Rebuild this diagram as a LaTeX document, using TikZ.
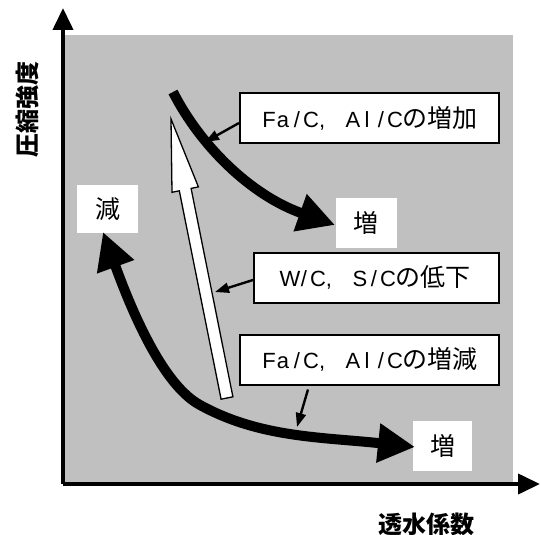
\documentclass[tikz,border=0pt]{standalone}
\usepackage{fontspec}
\newfontfamily\cjk{Noto Sans CJK JP}
\newfontfamily\lat{Liberation Sans}
\usetikzlibrary{arrows.meta,calc}
\definecolor{bg}{HTML}{C0C0C0}
\newcommand\hc[1]{\makebox[14pt][c]{\lat\fontsize{22}{22}\selectfont #1}}
\newcommand\hcomma{\makebox[14pt][l]{\lat\fontsize{22}{22}\selectfont\hspace{1pt},}}
\tikzset{bigtip/.tip={Triangle[length=37pt,width=37pt]}}
\begin{document}
\begin{tikzpicture}[x=1pt,y=-1pt,
  lbl/.style={draw=black,line width=2pt,fill=white,inner sep=0pt,minimum height=50pt,
    font=\cjk\fontsize{25}{25}\selectfont},
  dirbox/.style={fill=white,inner sep=0pt,minimum width=61pt,minimum height=50pt,
    font=\cjk\fontsize{25}{25}\selectfont},
  axislbl/.style={inner sep=0pt,font=\cjk\bfseries\fontsize{24}{24}\selectfont},
  axis/.style={line width=4pt,-{Triangle[length=22pt,width=20pt]}},
  curve/.style={line width=10pt},
  ptr/.style={line width=2.4pt,-{Triangle[length=14pt,width=10pt]}},
  hollow/.style={draw=black,line width=1.3pt,fill=white,line join=miter}]
\useasboundingbox (0,0) rectangle (541,535);
% background
\fill[bg] (63,35) rectangle (513,484);
% axes
\coordinate (o) at (63,484);
\coordinate (ytip) at (63,8);
\coordinate (xtip) at (540,484);
\draw[axis] (o) -- (ytip);
\draw[axis] (o) -- (xtip);
\node[axislbl,rotate=90] (ylab) at (27,109) {圧縮強度};
\node[axislbl] (xlab) at (426,524) {透水係数};
% labels
\node[lbl,minimum width=259pt] (b1) at (369.5,118) {\hc{F}\hc{a}\hc{/}\hc{C}\hcomma\hc{}\hc{A}\hc{l}\hc{/}\hc{C}の増加};
\node[lbl,minimum width=245pt] (b2) at (376.5,277.5) {\hc{W}\hc{/}\hc{C}\hcomma\hc{}\hc{S}\hc{/}\hc{C}の低下};
\node[lbl,minimum width=259pt] (b3) at (369.5,359.5) {\hc{F}\hc{a}\hc{/}\hc{C}\hcomma\hc{}\hc{A}\hc{l}\hc{/}\hc{C}の増減};
\node[dirbox] (up) at (366,223) {増};
\node[dirbox,minimum width=59pt] (inc) at (442.5,446) {増};
\node[dirbox,minimum height=48pt] (dec) at (107.5,209) {減};
% white arrow (W/C, S/C)
\coordinate (wt) at (171,119);
\coordinate (wh1) at (198.4,186.9);
\coordinate (ws1) at (191.1,188.4);
\coordinate (wb1) at (232.9,396.8);
\coordinate (wb2) at (221.1,399.2);
\coordinate (ws2) at (179.3,190.8);
\coordinate (wh2) at (172.0,192.3);
\draw[hollow] (wt) -- (wh1) -- (ws1) -- (wb1) -- (wb2) -- (ws2) -- (wh2) -- cycle;
% upper curve (Fa/C, Al/C increase)
\coordinate (u0) at (173,92);
\coordinate (u1) at (335,225);
\draw[curve,-bigtip] (u0) .. controls (200,145) and (250,195) .. (u1);
% lower double curve
\coordinate (l0) at (103,232);
\coordinate (lm) at (200,405);
\coordinate (l1) at (415,447);
\draw[curve,bigtip-bigtip] (l0) .. controls (135,320) and (165,386) .. (lm)
   .. controls (260,438) and (322,437) .. (l1);
% pointers
\coordinate (p1) at (205,142);
\coordinate (p2) at (215,292);
\coordinate (p3) at (297,427);
\draw[ptr] ($(b1.west)+(0,5)$) -- (p1);
\draw[ptr] ($(b2.west)+(0,2.5)$) -- (p2);
\draw[ptr] ($(b3.south)+(-61.5,4)$) -- (p3);
\end{tikzpicture}
\end{document}
